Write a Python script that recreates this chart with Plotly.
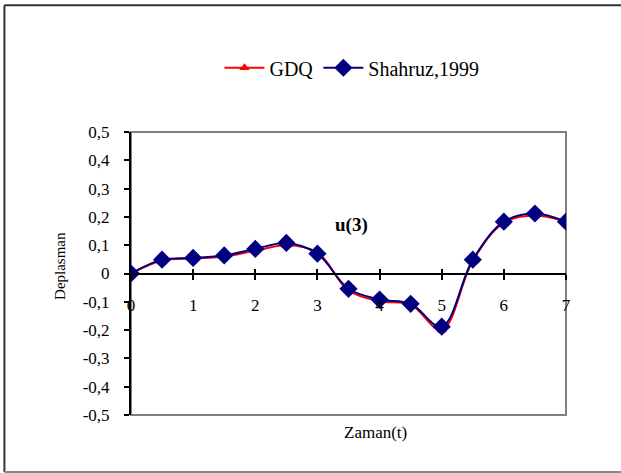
import plotly.graph_objects as go

t = [0, 0.5, 1, 1.5, 2, 2.5, 3, 3.5, 4, 4.5, 5, 5.5, 6, 6.5, 7]
gdq = [0, 0.046, 0.053, 0.060, 0.080, 0.100, 0.075, -0.060, -0.098, -0.110, -0.200, 0.045, 0.180, 0.205, 0.183]
shahruz = [0, 0.049, 0.055, 0.064, 0.087, 0.108, 0.070, -0.054, -0.092, -0.107, -0.188, 0.049, 0.183, 0.212, 0.183]

y_ticks = [-0.5, -0.4, -0.3, -0.2, -0.1, 0, 0.1, 0.2, 0.3, 0.4, 0.5]
y_labels = ["-0,5", "-0,4", "-0,3", "-0,2", "-0,1", "0", "0,1", "0,2", "0,3", "0,4", "0,5"]
x_ticks = [0, 1, 2, 3, 4, 5, 6, 7]

FONT = "Liberation Serif"

fig = go.Figure()
fig.add_trace(go.Scatter(
    x=t, y=gdq, name="GDQ", mode="lines+markers",
    line=dict(color="#FF0000", width=2, shape="spline", smoothing=1.0),
    marker=dict(symbol="triangle-up", size=9, color="#FF0000"),
))
fig.add_trace(go.Scatter(
    x=t, y=shahruz, name="Shahruz,1999", mode="lines+markers",
    line=dict(color="#000080", width=2, shape="spline", smoothing=1.0),
    marker=dict(symbol="diamond", size=14, color="#000080"),
))
# invisible trace to host the crossing-tick overlay axis
fig.add_trace(go.Scatter(x=[0], y=[0], xaxis="x2", mode="markers",
                         marker=dict(opacity=0), showlegend=False, hoverinfo="skip"))

fig.update_layout(
    width=621, height=473,
    margin=dict(l=131, r=55, t=132, b=58),
    paper_bgcolor="white", plot_bgcolor="white",
    font=dict(family=FONT, size=17, color="black"),
    showlegend=True,
    legend=dict(orientation="h", x=0.508, y=1.227, xanchor="center", yanchor="middle",
                font=dict(family=FONT, size=20), bgcolor="rgba(0,0,0,0)",
                itemwidth=40, tracegroupgap=0),
    xaxis=dict(range=[0, 7], tickvals=x_ticks, showgrid=False, zeroline=False,
               anchor="free", position=0.5, showline=True, linecolor="black", linewidth=2,
               ticks="outside", ticklen=5, tickwidth=2, tickcolor="black",
               ticklabelstandoff=11, tickfont=dict(family=FONT, size=17),
               fixedrange=True),
    xaxis2=dict(range=[0, 7], tickvals=x_ticks, overlaying="x", anchor="free", position=0.5,
                showgrid=False, zeroline=False, showline=False, showticklabels=False,
                ticks="inside", ticklen=5, tickwidth=2, tickcolor="black"),
    yaxis=dict(range=[-0.5, 0.5], tickvals=y_ticks, ticktext=y_labels, showgrid=False,
               zeroline=False, showline=True, linecolor="black", linewidth=2,
               ticks="outside", ticklen=5, tickwidth=2, tickcolor="black",
               ticklabelstandoff=11, tickfont=dict(family=FONT, size=17)),
    annotations=[
        dict(text="<b>u(3)</b>", x=3.55, y=0.173, xref="x", yref="y", showarrow=False,
             font=dict(family=FONT, size=19, color="black")),
        dict(text="Zaman(t)", x=0.561, y=-0.0636, xref="paper", yref="paper", showarrow=False,
             xanchor="center", yanchor="middle", font=dict(family=FONT, size=17)),
        dict(text="Deplasman", x=-0.163, y=0.527, xref="paper", yref="paper", showarrow=False,
             textangle=-90, xanchor="center", yanchor="middle", font=dict(family=FONT, size=15)),
    ],
    shapes=[
        dict(type="rect", xref="paper", yref="paper", x0=0, x1=1, y0=0, y1=1,
             line=dict(color="#808080", width=2), layer="below"),
        dict(type="line", xref="paper", yref="paper", x0=-0.291, x1=-0.291, y0=-0.201, y1=1.448,
             line=dict(color="#333333", width=2)),
        dict(type="line", xref="paper", yref="paper", x0=-0.291, x1=1.2, y0=1.448, y1=1.448,
             line=dict(color="#333333", width=2)),
        dict(type="line", xref="paper", yref="paper", x0=-0.291, x1=1.2, y0=-0.201, y1=-0.201,
             line=dict(color="#888888", width=2)),
    ],
)

fig.write_html("out.html")
